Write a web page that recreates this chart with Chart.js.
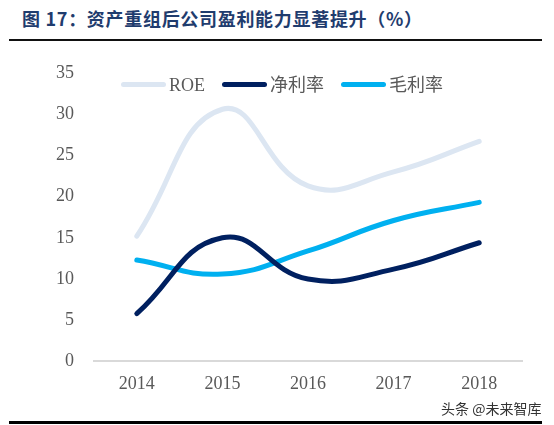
<!DOCTYPE html>
<html>
<head>
<meta charset="utf-8">
<script src="https://cdn.jsdelivr.net/npm/chart.js@4/dist/chart.umd.min.js"></script>
<style>
  body { margin: 0; background: #fff; }
  #wrap { position: relative; width: 554px; height: 425px; overflow: hidden; }
  #title { position: absolute; left: 22px; top: 5px; font: bold 18px "Noto Sans CJK SC", serif; color: #1f3c6e; letter-spacing: 0.7px; white-space: nowrap; }
  #topline { position: absolute; left: 9px; width: 533px; top: 39px; height: 2px; background: #111; }
  #botline { position: absolute; left: 9px; width: 533px; top: 421px; height: 3px; background: #000; }
  #legend { position: absolute; top: 70px; left: 121px; font: 18px "Liberation Serif", "Noto Sans CJK SC", serif; color: #595959; white-space: nowrap; }
  #legend span.item { display: inline-block; margin-right: 17px; }
  #legend span.sw { display: inline-block; width: 45px; height: 5px; border-radius: 3px; vertical-align: middle; margin-right: 3px; position: relative; top: -2px; }
  #mark { position: absolute; left: 441px; top: 398px; font: 14px "Noto Sans CJK SC", sans-serif; color: #333; }
  canvas { position: absolute; left: 0; top: 0; }
</style>
</head>
<body>
<div id="wrap">
  <div id="title">图 17：资产重组后公司盈利能力显著提升（%）</div>
  <div id="topline"></div>
  <canvas id="myChart" width="554" height="425"></canvas>
  <div id="legend"></div>
  <div id="mark">头条 @未来智库</div>
  <div id="botline"></div>
</div>
<script>
// values
var years = ['2014', '2015', '2016', '2017', '2018'];
var roe = [15.2, 30.6, 21.3, 23.0, 26.7];
var netMargin = [5.8, 15.0, 10.0, 11.2, 14.4];
var grossMargin = [12.3, 10.6, 13.4, 17.1, 19.3];
var yTicks = [0, 5, 10, 15, 20, 25, 30, 35];

var seriesNames = ['ROE', '净利率', '毛利率'];
var seriesColors = ['#dce6f2', '#002060', '#00b0f0'];
var tickFont = { family: '"Liberation Serif", "Times New Roman", serif', size: 18 };

var ctx = document.getElementById('myChart').getContext('2d');
var myChart = new Chart(ctx, {
  type: 'line',
  data: {
    labels: years,
    datasets: [{
      data: roe,
      label: seriesNames[0],
      borderColor: seriesColors[0],
      backgroundColor: seriesColors[0],
      borderWidth: 5,
      fill: false
    }, {
      data: netMargin,
      label: seriesNames[1],
      borderColor: seriesColors[1],
      backgroundColor: seriesColors[1],
      borderWidth: 5,
      fill: false
    }, {
      data: grossMargin,
      label: seriesNames[2],
      borderColor: seriesColors[2],
      backgroundColor: seriesColors[2],
      borderWidth: 5,
      fill: false
    }]
  },
  options: {
    responsive: false,
    animation: false,
    layout: { padding: { left: 36, right: 32, top: 73, bottom: 18 } },
    elements: {
      point: { radius: 0 },
      line: { tension: 0.45, borderCapStyle: 'round', borderJoinStyle: 'round' }
    },
    plugins: {
      legend: { display: false },
      tooltip: { enabled: false }
    },
    scales: {
      x: {
        offset: true,
        grid: { display: false, drawTicks: false },
        border: { display: true, color: '#d9d9d9', width: 2 },
        ticks: { padding: 12, color: '#595959', font: tickFont }
      },
      y: {
        min: 0,
        max: 35,
        afterBuildTicks: function (axis) {
          axis.ticks = yTicks.map(function (v) { return { value: v }; });
        },
        grid: { display: false, drawTicks: false },
        border: { display: false },
        ticks: { padding: 20, color: '#595959', font: tickFont }
      }
    }
  }
});

// legend built from the datasets
var lg = document.getElementById('legend');
myChart.data.datasets.forEach(function (ds) {
  var item = document.createElement('span');
  item.className = 'item';
  var sw = document.createElement('span');
  sw.className = 'sw';
  sw.style.background = ds.borderColor;
  item.appendChild(sw);
  item.appendChild(document.createTextNode(ds.label));
  lg.appendChild(item);
});
</script>
</body>
</html>
